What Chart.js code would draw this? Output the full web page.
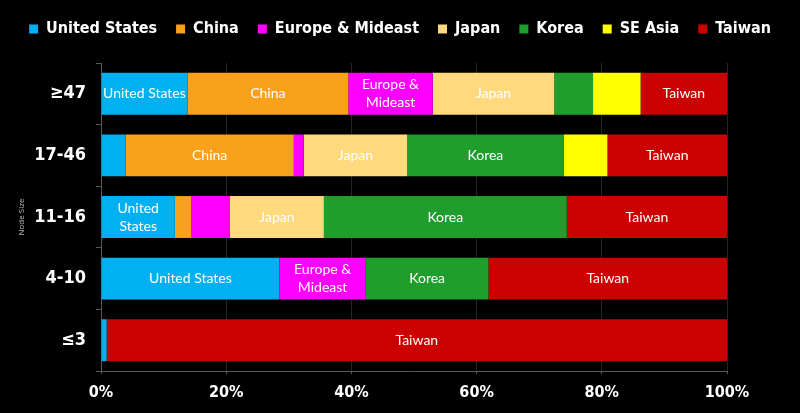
<!DOCTYPE html>
<html><head><meta charset="utf-8">
<script src="https://cdn.jsdelivr.net/npm/chart.js@4.4.0/dist/chart.umd.min.js"></script>
<style>html,body{margin:0;padding:0;background:#000;overflow:hidden}#wrap{width:800px;height:413px;position:relative;background:#000}</style>
</head><body><div id="wrap"><canvas id="c"></canvas></div>
<script>
const categories = ['≥47', '17-46', '11-16', '4-10', '≤3'];
const seriesNames = ['United States', 'China', 'Europe & Mideast', 'Japan', 'Korea', 'SE Asia', 'Taiwan'];
const unitedStates = [13.8, 3.9, 11.8, 28.5, 0.9];
const china = [25.7, 26.9, 2.6, 0, 0];
const europeMideast = [13.5, 1.6, 6.2, 13.8, 0];
const japan = [19.4, 16.5, 15.0, 0, 0];
const korea = [6.2, 25.0, 38.8, 19.6, 0];
const seAsia = [7.6, 7.0, 0, 0, 0];
const taiwan = [13.8, 19.1, 25.6, 38.1, 99.1];
const xTickLabels = ['0%', '20%', '40%', '60%', '80%', '100%'];
const axisTitle = 'Node Size';
const colors = ['#00B0F0', '#F9A11B', '#FF00FF', '#FFD97D', '#1F9E2E', '#FFFF00', '#CC0000'];

const seriesValues = [unitedStates, china, europeMideast, japan, korea, seAsia, taiwan];
const boldFam = "'DejaVu Sans Condensed', 'DejaVu Sans', sans-serif";

const legendSpace = {
  id: 'legendSpace',
  beforeInit(chart) {
    const orig = chart.legend.fit;
    chart.legend.fit = function () { orig.call(this); this.height += 16; };
  }
};

const segLabels = {
  id: 'segLabels',
  afterDatasetsDraw(chart) {
    const ctx = chart.ctx;
    ctx.save();
    ctx.font = "14px Lato, 'Open Sans', sans-serif";
    ctx.fillStyle = '#ffffff';
    ctx.textAlign = 'center';
    ctx.textBaseline = 'middle';
    chart.data.datasets.forEach((ds, di) => {
      const meta = chart.getDatasetMeta(di);
      meta.data.forEach((bar, i) => {
        const v = ds.data[i];
        if (v < 10) return;
        const p = bar.getProps(['x', 'base', 'y'], true);
        const w = Math.abs(p.x - p.base);
        const cx = (p.x + p.base) / 2;
        const text = ds.label;
        let lines = [text];
        if (ctx.measureText(text).width > w - 2) {
          const words = text.split(' ');
          lines = [];
          let cur = '';
          words.forEach(wd => {
            const t = cur ? cur + ' ' + wd : wd;
            if (cur && ctx.measureText(t).width > w - 2) { lines.push(cur); cur = wd; }
            else cur = t;
          });
          if (cur) lines.push(cur);
        }
        const lh = 18;
        const y0 = p.y - (lines.length - 1) * lh / 2;
        lines.forEach((ln, k) => ctx.fillText(ln, cx, y0 + k * lh));
      });
    });
    ctx.restore();
  }
};

new Chart(document.getElementById('c'), {
  type: 'bar',
  data: {
    labels: categories,
    datasets: seriesNames.map((n, k) => ({
      label: n,
      data: seriesValues[k],
      backgroundColor: colors[k],
      borderWidth: 0,
      categoryPercentage: 1,
      barPercentage: 0.68
    }))
  },
  options: {
    indexAxis: 'y',
    responsive: true,
    maintainAspectRatio: false,
    animation: false,
    layout: { padding: { left: 0, right: 0, top: 2, bottom: 1 } },
    plugins: {
      legend: {
        display: true,
        position: 'top',
        labels: {
          color: '#ffffff',
          boxWidth: 9,
          boxHeight: 9,
          padding: 19,
          font: { family: boldFam, size: 16, weight: 'bold' }
        }
      },
      tooltip: { enabled: false }
    },
    scales: {
      x: {
        stacked: true,
        min: 0,
        max: 100,
        ticks: {
          stepSize: 20,
          color: '#ffffff',
          font: { family: boldFam, size: 16, weight: 'bold', lineHeight: 1 },
          padding: 11,
          callback: (v, i) => xTickLabels[i]
        },
        grid: { color: '#262626', tickColor: '#595959', tickLength: 3, drawTicks: true },
        border: { color: '#595959', width: 1 }
      },
      y: {
        stacked: true,
        afterFit(scale) { scale.width = 101; },
        title: { display: true, text: axisTitle, color: '#bbbbbb', font: { size: 8, family: "'Open Sans', sans-serif" }, padding: { top: 17, bottom: 0 } },
        ticks: {
          color: '#ffffff',
          font: { family: boldFam, size: 18, weight: 'bold' },
          padding: 10
        },
        grid: { drawOnChartArea: false, tickColor: '#595959', tickLength: 5, offset: true },
        border: { color: '#595959', width: 1 }
      },
      yR: {
        type: 'category',
        position: 'right',
        display: true,
        afterFit(scale) { scale.width = 73; },
        ticks: { display: false },
        grid: { display: false, drawTicks: false },
        border: { display: false }
      }
    }
  },
  plugins: [legendSpace, segLabels]
});
</script>
</body></html>
